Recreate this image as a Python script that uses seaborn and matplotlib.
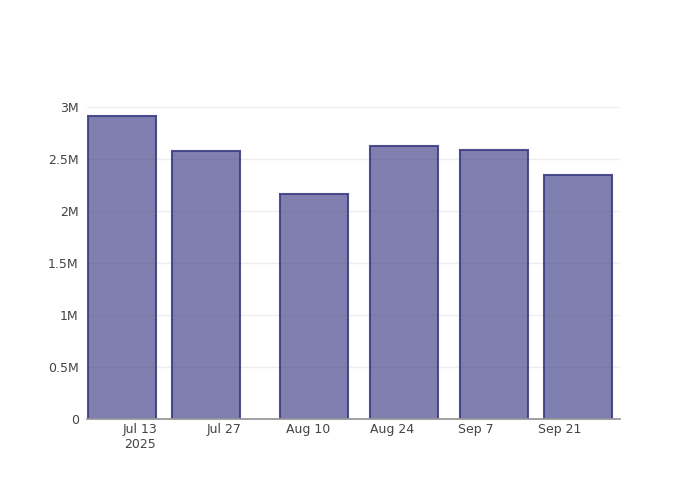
import numpy as np
import pandas as pd
import matplotlib
matplotlib.use('Agg')
import matplotlib.pyplot as plt
import matplotlib.dates as mdates
import seaborn as sns
from matplotlib.ticker import FuncFormatter, MultipleLocator

# Data
dates = ['2025-07-10', '2025-07-24', '2025-08-11', '2025-08-26', '2025-09-10', '2025-09-24']
values = [2916000, 2580000, 2166000, 2628000, 2585000, 2349000]
tick_dates = ['2025-07-13', '2025-07-27', '2025-08-10', '2025-08-24', '2025-09-07', '2025-09-21']
tick_labels = ['Jul 13\n2025', 'Jul 27', 'Aug 10', 'Aug 24', 'Sep 7', 'Sep 21']

sns.set_theme(style='white')
plt.rcParams['font.family'] = ['DejaVu Sans']

df = pd.DataFrame({'date': mdates.date2num(pd.to_datetime(dates)), 'value': values})

fig = plt.figure(figsize=(7, 5), dpi=100)
ax = fig.add_axes([87 / 700, 80.7 / 500, 533 / 700, 319.3 / 500])

sns.barplot(data=df, x='date', y='value', native_scale=True, width=0.8,
            color='#33337f', ax=ax, zorder=3)
for p in ax.patches:
    p.set_alpha(None)
    p.set_facecolor((0.2, 0.2, 0.5, 0.62))
    p.set_edgecolor((0.24, 0.24, 0.52, 0.9))
    p.set_linewidth(1.5)

# x axis as dates
t0 = mdates.date2num(pd.Timestamp('2025-07-13'))
ax.set_xlim(t0 - 53 / 6, t0 + 480 / 6)
ax.set_xticks(mdates.date2num(pd.to_datetime(tick_dates)))
ax.set_xticklabels(tick_labels)

ax.set_ylim(0, 3.07e6)
ax.yaxis.set_major_locator(MultipleLocator(500000))
ax.yaxis.set_major_formatter(FuncFormatter(lambda v, _: '0' if v == 0 else f'{v / 1e6:g}M'))

ax.grid(axis='y', color='#eeeeee', linewidth=1, zorder=0)
ax.set_axisbelow(True)
for s in ['top', 'right', 'left']:
    ax.spines[s].set_visible(False)
ax.spines['bottom'].set_color('#9a9a9a')
ax.spines['bottom'].set_linewidth(1.3)
ax.spines['bottom'].set_zorder(4)

ax.tick_params(axis='both', length=0, labelsize=9, colors='#444444')
ax.tick_params(axis='x', pad=3)
ax.tick_params(axis='y', pad=6)
ax.set_xlabel('')
ax.set_ylabel('')

plt.savefig('out.png', dpi=100)
plt.close()
